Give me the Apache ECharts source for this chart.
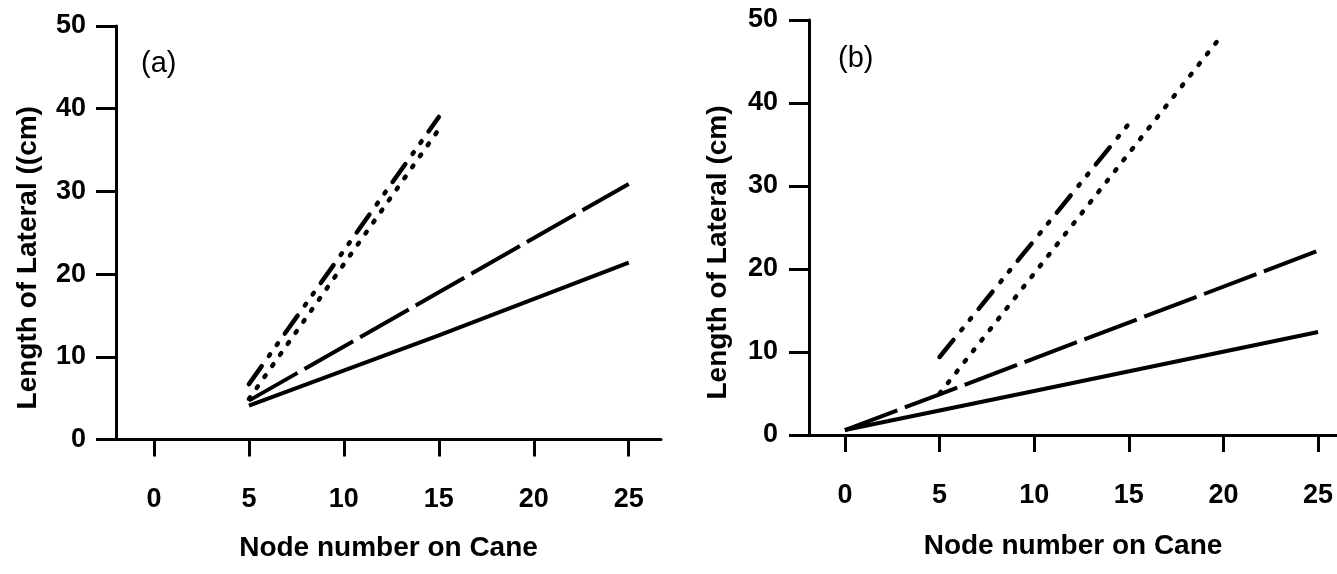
<!DOCTYPE html>
<html>
<head>
<meta charset="utf-8">
<script src="https://cdn.jsdelivr.net/npm/echarts@6/dist/echarts.min.js"></script>
<style>
html,body{margin:0;padding:0;background:#fff;}
#chart{width:1337px;height:574px;}
</style>
</head>
<body>
<div id="chart"></div>
<script>
// ---- tick labels ----
const xTickValues = [0, 5, 10, 15, 20, 25];
const yTickValues = [0, 10, 20, 30, 40, 50];

// ---- panel (a) ----
const aSolidX = [5, 15, 25];
const aSolidY = [4.1, 12.6, 21.4];
const aLongDashX = [5, 15, 25];
const aLongDashY = [4.7, 17.8, 30.9];
const aDottedX = [5, 15];
const aDottedY = [4.9, 37.5];
const aDashDotX = [5, 15];
const aDashDotY = [6.7, 39.0];

// ---- panel (b) ----
const bSolidX = [0, 10, 25];
const bSolidY = [0.6, 5.3, 12.4];
const bLongDashX = [0, 5, 25];
const bLongDashY = [0.6, 4.9, 22.2];
const bDottedX = [5, 20];
const bDottedY = [5.0, 48.4];
const bDashDotX = [5, 15];
const bDashDotY = [9.4, 37.5];

const xTitle = 'Node number on Cane';
const yTitleA = 'Length of Lateral ((cm)';
const yTitleB = 'Length of Lateral (cm)';

const FONT = '"Liberation Sans", Arial, Helvetica, sans-serif';
const zip = (xs, ys) => xs.map((x, i) => [x, ys[i]]);

const styles = {
  solid:    { type: 'solid', width: 4, cap: 'butt' },
  longdash: { type: [56, 8], width: 4, cap: 'butt' },
  dotted:   { type: [2, 11.5], width: 4.5, cap: 'round' },
  dashdot:  { type: [22, 12.5, 2, 11.5, 2, 12], width: 4.5, cap: 'round' }
};

function series(idx, xs, ys, kind) {
  return {
    type: 'line', xAxisIndex: idx, yAxisIndex: idx,
    data: zip(xs, ys), symbol: 'none', silent: true, animation: false,
    lineStyle: Object.assign({ color: '#000' }, styles[kind])
  };
}

function xAxisCfg(idx, min, max, nameGap) {
  return {
    type: 'value', gridIndex: idx, min: min, max: max,
    axisLine: { show: true, onZero: false, lineStyle: { color: '#000', width: 3 } },
    axisTick: { show: true, length: 17, customValues: xTickValues, lineStyle: { color: '#000', width: 3 } },
    axisLabel: { customValues: xTickValues, margin: 47, fontSize: 27, fontWeight: 'bold', color: '#000', fontFamily: FONT },
    splitLine: { show: false },
    name: xTitle, nameLocation: 'middle', nameGap: nameGap,
    nameTextStyle: { fontSize: 28, fontWeight: 'bold', color: '#000', fontFamily: FONT }
  };
}

function yAxisCfg(idx, name, nameGap, pad, margin) {
  return {
    type: 'value', gridIndex: idx, min: 0, max: 50, interval: 10,
    axisLine: { show: true, onZero: false, lineStyle: { color: '#000', width: 3 } },
    axisTick: { show: true, length: 20, lineStyle: { color: '#000', width: 3 } },
    axisLabel: { margin: margin, fontSize: 27, fontWeight: 'bold', color: '#000', fontFamily: FONT },
    splitLine: { show: false },
    name: name, nameLocation: 'middle', nameRotate: 90, nameGap: nameGap,
    nameTextStyle: { fontSize: 28, fontWeight: 'bold', color: '#000', fontFamily: FONT, padding: [0, pad, 0, 0] }
  };
}

const chart = echarts.init(document.getElementById('chart'), null, { renderer: 'canvas' });
chart.setOption({
  backgroundColor: '#fff',
  animation: false,
  title: [
    { text: '(a)', left: 136, top: 44, textStyle: { fontSize: 29, fontWeight: 'normal', color: '#000', fontFamily: FONT } },
    { text: '(b)', left: 833, top: 39, textStyle: { fontSize: 29, fontWeight: 'normal', color: '#000', fontFamily: FONT } }
  ],
  grid: [
    { left: 116, top: 26, width: 545, height: 413.5, containLabel: false, outerBoundsMode: 'none' },
    { left: 809, top: 20, width: 528, height: 415, containLabel: false, outerBoundsMode: 'none' }
  ],
  xAxis: [ xAxisCfg(0, -2, 26.7, 95), xAxisCfg(1, -1.9, 26, 97) ],
  yAxis: [ yAxisCfg(0, yTitleA, 74, 50, 30), yAxisCfg(1, yTitleB, 77, 50, 31) ],
  series: [
    series(0, aSolidX, aSolidY, 'solid'),
    series(0, aLongDashX, aLongDashY, 'longdash'),
    series(0, aDottedX, aDottedY, 'dotted'),
    series(0, aDashDotX, aDashDotY, 'dashdot'),
    series(1, bSolidX, bSolidY, 'solid'),
    series(1, bLongDashX, bLongDashY, 'longdash'),
    series(1, bDottedX, bDottedY, 'dotted'),
    series(1, bDashDotX, bDashDotY, 'dashdot')
  ]
});
</script>
</body>
</html>
